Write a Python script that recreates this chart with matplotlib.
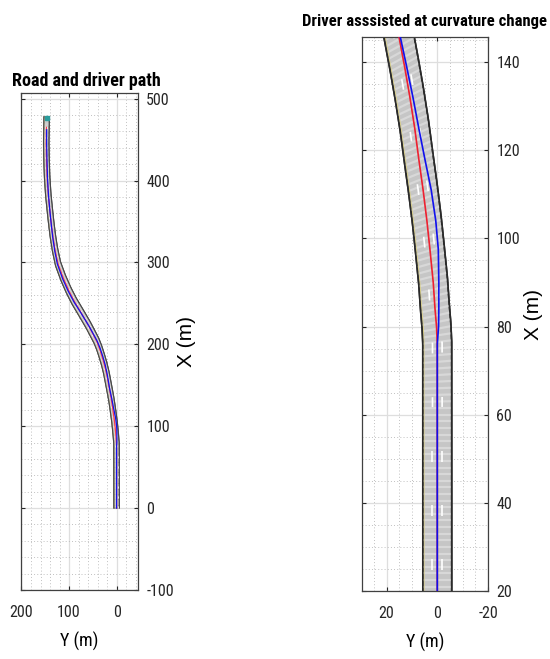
import numpy as np
import matplotlib
matplotlib.use("Agg")
import matplotlib.pyplot as plt
from matplotlib.ticker import MultipleLocator
from matplotlib.collections import LineCollection

plt.rcParams['font.family'] = ['Liberation Sans Narrow', 'DejaVu Sans Condensed', 'Roboto Condensed',
                               'Roboto', 'Liberation Sans', 'DejaVu Sans']
plt.rcParams['axes.unicode_minus'] = False

# road centre line: X (m) forward, Y (m) lateral
road_x = [0, 20, 40, 60, 76, 80, 84, 90, 97.5, 104, 111, 118, 125, 132, 139, 146, 152,
          163, 175, 185, 195, 204, 213, 222, 231, 240, 252, 265, 280, 298, 314, 330,
          346, 362, 382, 403, 424, 445, 465, 478]
road_y = [0, 0, 0, 0, 0, 0.3, 0.9, 1.6, 2.9, 4.1, 5.6, 7.3, 8.9, 10.8, 12.9, 15.2, 17.1,
          20.6, 25.5, 30.5, 36, 42, 50, 58, 67, 76, 88.5, 100, 111.5, 123, 129, 133.5,
          137, 140, 143.5, 146, 147.3, 148, 147.5, 147]

# driver path
drv_x = [0, 20, 40, 60, 76, 80, 84, 90, 97.5, 104, 111, 118, 125, 132, 139, 146, 152,
         163, 175, 185, 195, 204, 213, 222, 231, 240, 252, 265, 280, 298, 314, 330,
         346, 362, 382, 403, 424, 445, 462]
drv_y = [0, 0, 0, 0, 0, -0.5, -0.6, -0.6, -0.4, 0.6, 2.4, 4.9, 7.3, 9.6, 12.1, 14.7, 16.4,
         19.6, 24.0, 28.9, 34.5, 40.8, 49.2, 57.7, 67.2, 76.7, 89.8, 101.8, 113.4, 124.5,
         130, 134.1, 137.3, 140.1, 143.2, 145.3, 146.3, 147.1, 147.1]

# ego vehicle at the end of the run
car_x = [476]
car_y = [147]

lane_w = 3.8
n_lanes = 3
dash_period = 12.3
dash_len = 2.7


def road_geometry(x, y, step=0.25):
    x = np.asarray(x, float)
    y = np.asarray(y, float)
    s = np.concatenate([[0], np.cumsum(np.hypot(np.diff(x), np.diff(y)))])
    dx = np.gradient(x, s)
    dy = np.gradient(y, s)
    n = np.hypot(dx, dy)
    nx, ny = -dy / n, dx / n
    sd = np.arange(0, s[-1] + step / 2, step)
    return (sd, np.interp(sd, s, x), np.interp(sd, s, y),
            np.interp(sd, s, nx), np.interp(sd, s, ny))


def draw_road(ax, lw_edge, lw_stripe, lw_dash, edge_col):
    s, x, y, nx, ny = road_geometry(road_x, road_y)
    hw = lane_w * n_lanes / 2
    lx, ly = x + hw * nx, y + hw * ny
    rx, ry = x - hw * nx, y - hw * ny
    ax.fill(np.r_[ly, ry[::-1]], np.r_[lx, rx[::-1]], facecolor='#c6c6c6',
            edgecolor=edge_col, lw=lw_edge, zorder=2)
    # road surface texture
    idx = np.arange(0, len(s), 6)
    segs = [[(ly[i], lx[i]), (ry[i], rx[i])] for i in idx]
    ax.add_collection(LineCollection(segs, colors='#d8d8d8', lw=lw_stripe, zorder=2.1))
    # left boundary inner yellow line
    ax.plot(y + (hw - 0.5) * ny, x + (hw - 0.5) * nx, color='#d9cf8a', lw=lw_edge * 0.6, zorder=2.2)
    ax.plot(ly, lx, color=edge_col, lw=lw_edge, zorder=2.3)
    ax.plot(ry, rx, color=edge_col, lw=lw_edge, zorder=2.3)
    # lane markings
    on = (s % dash_period) < dash_len
    for k in range(1, n_lanes):
        d = -hw + k * lane_w
        mx, my = x + d * nx, y + d * ny
        segs = []
        start = None
        for i in range(len(s)):
            if on[i] and start is None:
                start = i
            if (not on[i] or i == len(s) - 1) and start is not None:
                segs.append(np.column_stack([my[start:i], mx[start:i]]))
                start = None
        ax.add_collection(LineCollection(segs, colors='white', lw=lw_dash, zorder=2.4))


def style_axes(ax, minor_x, minor_y, ylabelpad):
    ax.yaxis.tick_right()
    ax.yaxis.set_label_position('right')
    ax.xaxis.set_minor_locator(MultipleLocator(minor_x))
    ax.yaxis.set_minor_locator(MultipleLocator(minor_y))
    ax.tick_params(which='both', direction='in', top=True, bottom=True, left=True, right=True,
                   labelleft=False, labelright=True, colors='#262626', labelsize=11.5)
    ax.tick_params(which='major', length=3)
    ax.tick_params(which='minor', length=0)
    ax.tick_params(axis='x', pad=11)
    ax.tick_params(axis='y', pad=6)
    ax.grid(which='major', color='#dedede', lw=0.9)
    ax.grid(which='minor', color='#b8b8b8', ls=(0, (1, 2.5)), lw=0.65)
    ax.set_axisbelow(True)
    for sp in ax.spines.values():
        sp.set_color('#404040')
        sp.set_linewidth(0.9)
    ax.set_xlabel('Y (m)', fontsize=13, labelpad=8)
    ax.set_ylabel('X (m)', fontsize=15, labelpad=ylabelpad,
                  family=['Liberation Sans', 'DejaVu Sans'])


fig = plt.figure(figsize=(5.5, 6.59), dpi=100)
ax1 = fig.add_axes([21 / 550, 1 - 590 / 659, 117 / 550, 497 / 659])
ax2 = fig.add_axes([362 / 550, 1 - 591 / 659, 126 / 550, 554 / 659])

# overview
draw_road(ax1, 0.8, 0.4, 0.5, '#484848')
ax1.plot(road_y[:-1], road_x[:-1], color='#ff3a4a', lw=0.9, zorder=3)
ax1.plot(drv_y, drv_x, color='#1010ee', lw=0.9, zorder=3.1)
ax1.plot(car_y, car_x, ls='none', marker='s', ms=3.5, color='#2a9d9d', zorder=4)
ax1.set_xlim(201, -45)
ax1.set_ylim(-100, 507)
ax1.xaxis.set_major_locator(MultipleLocator(100))
ax1.yaxis.set_major_locator(MultipleLocator(100))
style_axes(ax1, 20, 20, 2)
ax1.set_title('Road and driver path', fontsize=13, fontweight='bold', pad=5, x=0.56)

# zoom on the curvature change
draw_road(ax2, 1.2, 1.6, 1.2, '#2a2a2a')
ax2.plot(road_y[:-1], road_x[:-1], color='#ee2030', lw=1.2, zorder=3)
ax2.plot(drv_y, drv_x, color='#1010ee', lw=1.2, zorder=3.1)
ax2.set_xlim(29.7, -20)
ax2.set_ylim(20, 145.7)
ax2.xaxis.set_major_locator(MultipleLocator(20))
ax2.yaxis.set_major_locator(MultipleLocator(20))
style_axes(ax2, 5, 5, 3)
ax2.set_title('Driver asssisted at curvature change', fontsize=12, fontweight='bold', pad=8)

fig.savefig('out.png', dpi=100)
